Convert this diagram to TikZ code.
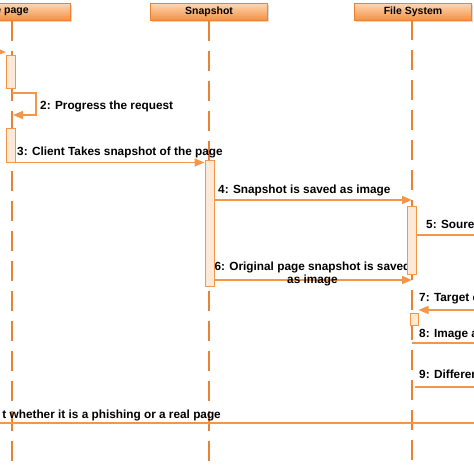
\documentclass[tikz,border=0pt]{standalone}
\usepackage{fontspec}
\setmainfont{Liberation Sans}
\usetikzlibrary{arrows.meta,shadows}
\definecolor{lifeorange}{RGB}{232,130,52}
\definecolor{msgorange}{RGB}{243,150,74}
\definecolor{headtop}{RGB}{252,216,184}
\definecolor{headbot}{RGB}{244,146,66}
\definecolor{actfill}{RGB}{253,233,216}

\begin{document}
\begin{tikzpicture}[x=1pt,y=-1pt]
\tikzstyle{every node}+=[inner sep=0pt]
\tikzstyle{head}=[draw=lifeorange, line width=1pt, top color=headtop, bottom color=headbot, minimum width=117pt, minimum height=17pt, font=\fontsize{10.5}{12}\selectfont\bfseries, drop shadow={shadow xshift=1pt,shadow yshift=-1.5pt,opacity=0.3}]
\tikzstyle{life}=[lifeorange, line width=2pt, dash pattern=on 20pt off 10pt]
\tikzstyle{act}=[draw=msgorange, fill=actfill, line width=1pt, minimum width=9pt]
\tikzstyle{msg}=[msgorange, line width=1.5pt, -{Triangle[length=10pt,width=8pt]}]
\tikzstyle{plain}=[msgorange, line width=1.5pt]
\tikzstyle{lbl}=[font=\fontsize{11.8}{13}\selectfont\bfseries]
\useasboundingbox (0,0) rectangle (474,474);
\clip (0,0) rectangle (474,474);
% heads
\node [head] (hpage) at (12,11.5) {e page};
\node [head] (hsnap) at (209,11.5) {Snapshot};
\node [head] (hfile) at (413,11.5) {File System};
% lifelines
\coordinate (epage) at (12,462);
\coordinate (esnap) at (209,462);
\coordinate (efile) at (412,462);
\draw [life] (hpage.south) -- (epage);
\draw [life] (hsnap.south) -- (esnap);
\draw [life] (412,20) -- (efile);
% messages
\coordinate (m1s) at (-5,52);
\coordinate (m2s) at (12,93);
\coordinate (m2e) at (13,115);
\coordinate (m5e) at (480,235);
\coordinate (m7s) at (480,310);
\coordinate (m8s) at (412,343);
\coordinate (m8e) at (480,343);
\coordinate (m9s) at (415,387);
\coordinate (m9e) at (480,387);
\coordinate (m10s) at (-5,423);
\coordinate (m10e) at (480,423);
\node [act, minimum height=33pt] (apage1) at (11,71.5) {};
\node [act, minimum height=34pt] (apage2) at (11,145) {};
\node [act, minimum height=126pt] (asnap) at (209.5,223) {};
\node [act, minimum height=68pt] (afile1) at (411.5,240) {};
\node [act, minimum width=8pt, minimum height=12pt] (afile2) at (414,319) {};
\draw [msg] (m1s) -- (m1s -| apage1.west);
\draw [msg] (m2s) -- ++(24,0) |- (m2e);
\draw (40,109) node [lbl, anchor=base west] {2: Progress the request};
\draw [msg] (apage2.south east) -- (apage2.south east -| asnap.west);
\draw (17,155) node [lbl, anchor=base west] {3: Client Takes snapshot of the page};
\draw [msg] (asnap.east |- 0,200) -- (412,200);
\draw (218,193) node [lbl, anchor=base west] {4: Snapshot is saved as image};
\draw [plain] (afile1.east |- m5e) -- (m5e);
\draw (426,228) node [lbl, anchor=base west] {5: Soure};
\draw [msg] (asnap.east |- 0,280) -- (412,280);
\draw (312.5,274) node [lbl, align=center] {6: Original page snapshot is saved\\as image};
\draw [msg] (m7s) -- (m7s -| afile2.east);
\draw (419,301) node [lbl, anchor=base west] {7: Target c};
\draw [plain] (m8s) -- (m8e);
\draw (419,337) node [lbl, anchor=base west] {8: Image a};
\draw [plain] (m9s) -- (m9e);
\draw (419,378) node [lbl, anchor=base west] {9: Differen};
\draw [plain] (m10s) -- (m10e);
\draw (221,418) node [lbl, anchor=base east] {t whether it is a phishing or a real page};
% activations on top
\node [act, minimum height=126pt] at (asnap) {};
\node [act, minimum height=68pt] at (afile1) {};
\end{tikzpicture}
\end{document}
